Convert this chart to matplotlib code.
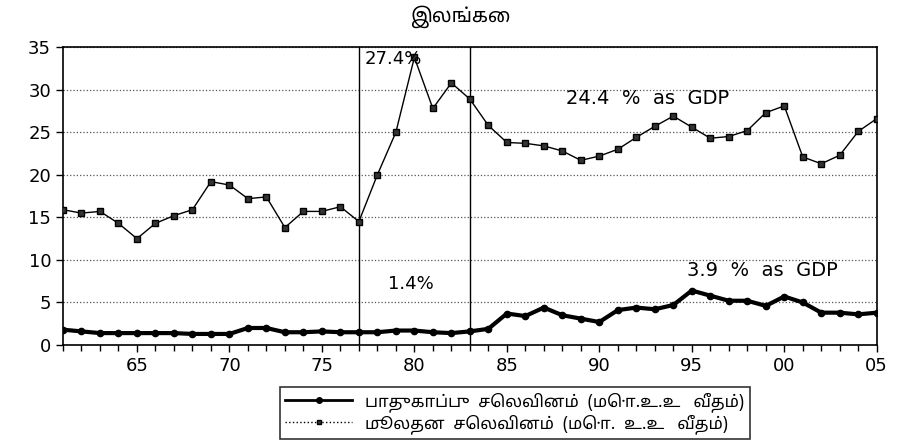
import numpy as np
import matplotlib
matplotlib.use("Agg")
import matplotlib.pyplot as plt
from matplotlib.lines import Line2D
from matplotlib.ticker import MultipleLocator, FuncFormatter

years = np.arange(1961, 2006)

# defence expenditure (% of GDP)
defence = [1.8, 1.6, 1.4, 1.4, 1.4, 1.4, 1.4, 1.3, 1.3, 1.3,
           2.0, 2.0, 1.5, 1.5, 1.6, 1.5, 1.5, 1.5, 1.7, 1.7,
           1.5, 1.4, 1.6, 1.9, 3.7, 3.4, 4.4, 3.5, 3.1, 2.7,
           4.1, 4.4, 4.2, 4.7, 6.4, 5.8, 5.2, 5.2, 4.6, 5.7,
           5.0, 3.8, 3.8, 3.6, 3.8]

# capital expenditure (% of GDP)
capital = [15.9, 15.5, 15.7, 14.3, 12.5, 14.3, 15.2, 15.9, 19.2, 18.8,
           17.2, 17.4, 13.8, 15.7, 15.7, 16.25, 14.5, 20.0, 25.0, 33.8,
           27.8, 30.8, 28.9, 25.8, 23.8, 23.7, 23.4, 22.8, 21.7, 22.2,
           23.0, 24.4, 25.7, 26.9, 25.6, 24.3, 24.5, 25.2, 27.3, 28.1,
           22.1, 21.3, 22.3, 25.1, 26.6]

breaks = [1977, 1983]
xticks = [1965, 1970, 1975, 1980, 1985, 1990, 1995, 2000, 2005]

title = "இலங்கை"
label_defence = "பாதுகாப்பு  செலவினம்  (மொ.உ.உ   வீதம்)"
label_capital = "மூலதன  செலவினம்  (மொ.  உ.உ   வீதம்)"

tamil = ["Noto Sans Tamil", "Lohit Tamil", "Noto Sans", "DejaVu Sans"]

fig = plt.figure(figsize=(9.02, 4.45), dpi=100)
ax = fig.add_axes([0.0698, 0.2247, 0.9022, 0.6693])

ax.plot(years, capital, color="black", lw=1.0, marker="s", ms=3.8,
        mfc="#333333", mec="black", zorder=3)
ax.plot(years, defence, color="black", lw=3.0, marker="o", ms=4.5, zorder=3)

for b in breaks:
    ax.axvline(b, color="black", lw=1.0)

ax.set_xlim(1961, 2005)
ax.set_ylim(0, 35)
ax.yaxis.set_major_locator(MultipleLocator(5))
ax.xaxis.set_minor_locator(MultipleLocator(1))
ax.set_xticks(xticks)
ax.xaxis.set_major_formatter(FuncFormatter(lambda v, p: f"{int(v) % 100:02d}"))

ax.grid(axis="y", linestyle=":", color="#555555", lw=0.9)
ax.tick_params(axis="both", which="major", labelsize=13, length=5, width=1)
ax.tick_params(axis="x", which="minor", length=4, width=1)
for s in ax.spines.values():
    s.set_linewidth(1.2)

ax.text(1977.3, 34.7, "27.4%", fontsize=13, va="top", ha="left")
ax.text(1992.6, 29.0, "24.4  %  as  GDP", fontsize=14, ha="center", va="center")
ax.text(1979.8, 7.2, "1.4%", fontsize=13, ha="center", va="center")
ax.text(1998.8, 8.8, "3.9  %  as  GDP", fontsize=14, ha="center", va="center")

fig.text(0.51, 0.963, title, fontsize=14, fontweight="bold",
         ha="center", va="center", family=tamil)

h_def = Line2D([], [], color="black", lw=2.0, marker="o", ms=4)
h_cap = Line2D([], [], color="black", lw=1.0, ls=":", marker="s", ms=3.5,
               mfc="#333333")
leg = fig.legend([h_def, h_cap], [label_defence, label_capital], loc="center",
                 bbox_to_anchor=(0.571, 0.072), frameon=True, fancybox=False,
                 edgecolor="black", handlelength=4.0, borderpad=0.3,
                 labelspacing=0.15, prop={"family": tamil, "size": 12})
leg.get_frame().set_linewidth(1.2)

fig.savefig("out.png", dpi=100)
